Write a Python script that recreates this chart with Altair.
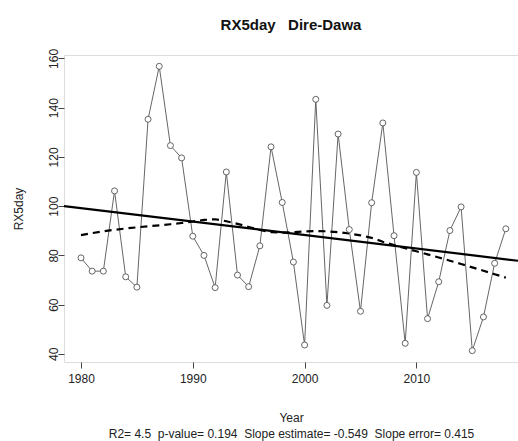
import altair as alt
import pandas as pd

years = [1980, 1981, 1982, 1983, 1984, 1985, 1986, 1987, 1988, 1989,
         1990, 1991, 1992, 1993, 1994, 1995, 1996, 1997, 1998, 1999,
         2000, 2001, 2002, 2003, 2004, 2005, 2006, 2007, 2008, 2009,
         2010, 2011, 2012, 2013, 2014, 2015, 2016, 2017, 2018]
rx5day = [79.0, 73.6, 73.6, 106.2, 71.3, 67.1, 135.3, 156.8, 124.6, 119.6,
          87.8, 80.0, 66.9, 113.9, 72.0, 67.3, 83.9, 124.1, 101.5, 77.3,
          43.6, 143.4, 59.7, 129.3, 90.5, 57.3, 101.4, 133.8, 88.0, 44.3,
          113.7, 54.3, 69.3, 90.1, 99.7, 41.3, 55.0, 76.8, 90.8]
x_ticks = [1980, 1990, 2000, 2010]
y_ticks = [40, 60, 80, 100, 120, 140, 160]
title_text = "RX5day\u00a0\u00a0\u00a0Dire-Dawa"
x_title = ["Year", "R2=\u00a04.5\u00a0\u00a0p-value=\u00a00.194\u00a0\u00a0Slope\u00a0estimate=\u00a0-0.549\u00a0\u00a0Slope\u00a0error=\u00a00.415"]
y_title = "RX5day"

df = pd.DataFrame({"year": years, "value": rx5day})

FONT = "Liberation Sans"
x_dom = [1978.48, 2019.09]
y_dom = [36.7, 161.4]

xenc = alt.X("year:Q", scale=alt.Scale(domain=x_dom, nice=False, zero=False),
             axis=alt.Axis(values=x_ticks, format="d", title=x_title, grid=False,
                           domain=False, tickSize=6, tickColor="#444",
                           labelFont=FONT, labelFontSize=12, labelColor="#222",
                           labelPadding=5, labelFlush=False,
                           titleFont=FONT, titleFontSize=12, titleFontWeight="normal",
                           titleColor="#222", titleBaseline="alphabetic",
                           titleY=59, titleLineHeight=16))
yenc = alt.Y("value:Q", scale=alt.Scale(domain=y_dom, nice=False, zero=False),
             axis=alt.Axis(values=y_ticks, title=y_title, grid=False,
                           domain=False, tickSize=6, tickColor="#444",
                           labelFont=FONT, labelFontSize=12, labelColor="#222",
                           labelAngle=270, labelAlign="center", labelBaseline="alphabetic",
                           labelPadding=1, labelFlush=False,
                           titleFont=FONT, titleFontSize=12, titleFontWeight="normal",
                           titleColor="#222", titleAngle=270, titleAlign="center",
                           titleBaseline="alphabetic", titleX=-42, titleY=153.5))

base = alt.Chart(df)

conn = base.mark_line(color="#555", strokeWidth=0.9, clip=True).encode(x=xenc, y=yenc)
pts = base.mark_point(shape="circle", filled=False, fill="white", fillOpacity=1,
                      stroke="#555", strokeWidth=0.9, size=36, clip=True).encode(x="year:Q", y="value:Q")
reg = base.transform_regression("year", "value", extent=x_dom).mark_line(
    color="black", strokeWidth=2.2, clip=True).encode(x="year:Q", y="value:Q")
lo = base.transform_loess("year", "value", bandwidth=0.66).mark_line(
    color="black", strokeWidth=2.2, strokeDash=[7, 5], clip=True).encode(x="year:Q", y="value:Q")

chart = alt.layer(conn, reg, lo, pts).properties(
    width=454, height=307,
    title=alt.TitleParams(title_text, font=FONT, fontSize=15, fontWeight="bold",
                          color="#111", anchor="middle", baseline="alphabetic", offset=3),
    autosize=alt.AutoSizeParams(type="none"),
    padding={"left": 64, "top": 55, "right": 0, "bottom": 79},
).configure_view(stroke="#666", strokeWidth=1).configure(background="white")

chart.save("out.html", embed_options={"renderer": "svg", "actions": False})
